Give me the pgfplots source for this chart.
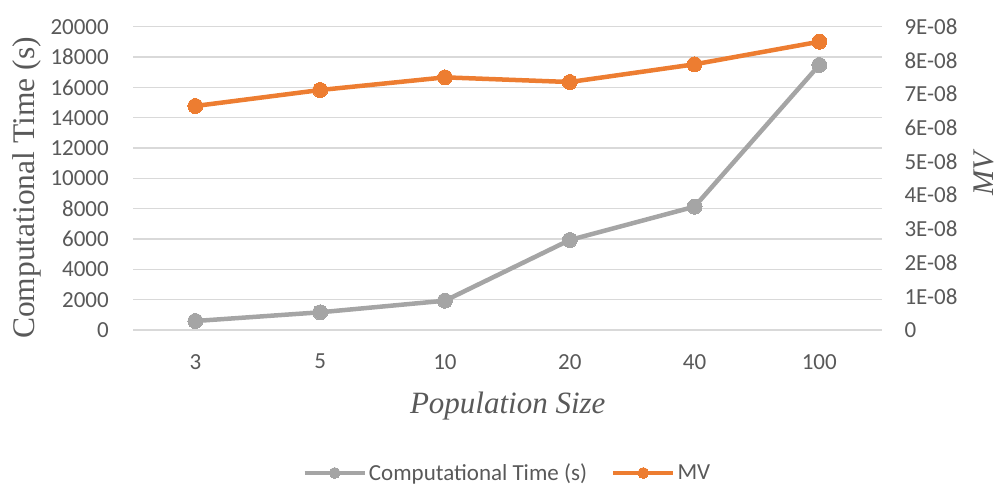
\documentclass[border=0pt]{standalone}
\usepackage{fontspec}
\setmainfont{Liberation Serif}
\newfontfamily\calibri{Carlito}
\usepackage{pgfplots}
\pgfplotsset{compat=1.18}
\definecolor{ctgray}{HTML}{A5A5A5}
\definecolor{mvorange}{HTML}{ED7D31}
\definecolor{gridgray}{HTML}{D9D9D9}
\definecolor{labelgray}{HTML}{595959}
\pgfplotsset{
  common/.style={
    at={(133pt,156pt)}, anchor=south west,
    width=748.7pt, height=303.3pt, scale only axis,
    xmin=-0.5, xmax=5.5,
    clip=false,
    scaled ticks=false,
    major tick length=0pt,
    axis line style={draw=none},
    /pgf/number format/assume math mode=true,
    tick label style={font=\calibri\fontsize{23}{27}\selectfont, text=labelgray, inner sep=0pt},
    legend image code/.code={
      \draw[mark repeat=2,mark phase=2,#1,mark size=5.5pt] plot coordinates {(0pt,0pt) (30pt,0pt) (60pt,0pt)};
    },
  }
}
\begin{document}
\begin{tikzpicture}
\path[use as bounding box] (0pt,0pt) rectangle (1000pt,486pt);
\begin{axis}[
  common,
  ymin=0, ymax=20000,
  xtick={0,1,2,3,4,5},
  xticklabels={3,5,10,20,40,100},
  ytick={0,2000,4000,6000,8000,10000,12000,14000,16000,18000,20000},
  yticklabels={0,2000,4000,6000,8000,10000,12000,14000,16000,18000,20000},
  xticklabel style={anchor=north, yshift=-24pt},
  yticklabel style={anchor=east, xshift=-24pt},
  ymajorgrids,
  grid style={draw=gridgray, line width=1.3pt},
  xlabel={\rmfamily\itshape Population Size},
  ylabel={\rmfamily Computational Time (s)},
  every axis x label/.style={at={(rel axis cs:0.5005,-0.2747)}, anchor=base, font=\rmfamily\fontsize{31}{36}\selectfont, text=labelgray, inner sep=0pt},
  every axis y label/.style={at={(rel axis cs:-0.1309,0.468)}, rotate=90, anchor=base, font=\rmfamily\fontsize{31.5}{36}\selectfont, text=labelgray, inner sep=0pt},
]
\addplot[color=ctgray, line width=4.5pt, mark=*, mark size=7.5pt, mark options={fill=ctgray, draw=ctgray, line width=0pt}]
  coordinates {(0,593) (1,1167) (2,1932) (3,5934) (4,8132) (5,17474)};
\end{axis}
\begin{axis}[
  common,
  axis x line=none,
  axis y line*=right,
  ymin=0, ymax=9e-8,
  ytick={0,1e-8,2e-8,3e-8,4e-8,5e-8,6e-8,7e-8,8e-8,9e-8},
  yticklabels={0,1E-08,2E-08,3E-08,4E-08,5E-08,6E-08,7E-08,8E-08,9E-08},
  yticklabel style={anchor=west, xshift=22.6pt},
  ylabel={\rmfamily\itshape MV},
  every axis y label/.style={at={(rel axis cs:1.149,0.516)}, rotate=90, anchor=base, font=\rmfamily\fontsize{30}{36}\selectfont, text=labelgray, inner sep=0pt},
  legend style={at={(rel axis cs:0.5,-0.4715)}, anchor=center, draw=none, fill=none, inner sep=0pt,
    font=\calibri\fontsize{23}{27}\selectfont, text=labelgray,
    /tikz/every even column/.append style={column sep=22pt},
    nodes={inner sep=2pt}},
  legend columns=2,
  legend cell align=left,
]
\addlegendimage{color=ctgray, line width=4.5pt, mark=*, mark options={fill=ctgray, draw=ctgray, line width=0pt}}
\addlegendentry{Computational Time (s)}
\addplot[color=mvorange, line width=4.5pt, mark=*, mark size=7.5pt, mark options={fill=mvorange, draw=mvorange, line width=0pt}]
  coordinates {(0,6.647e-8) (1,7.121e-8) (2,7.497e-8) (3,7.358e-8) (4,7.884e-8) (5,8.555e-8)};
\addlegendentry{MV}
\end{axis}
\end{tikzpicture}
\end{document}
